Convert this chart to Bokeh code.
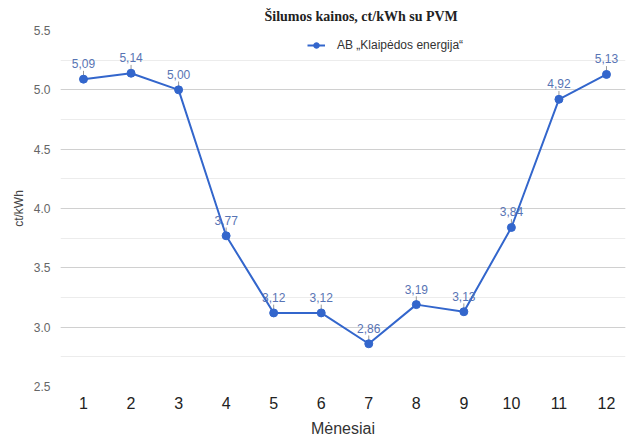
from bokeh.plotting import figure
from bokeh.models import (ColumnDataSource, SingleIntervalTicker, FixedTicker, PrintfTickFormatter,
                          Range1d, Legend, LegendItem, Title)
from bokeh.embed import file_html
from bokeh.resources import INLINE
from bokeh.core.properties import value

months = [1, 2, 3, 4, 5, 6, 7, 8, 9, 10, 11, 12]
prices = [5.09, 5.14, 5.00, 3.77, 3.12, 3.12, 2.86, 3.19, 3.13, 3.84, 4.92, 5.13]
price_labels = ["5,09", "5,14", "5,00", "3,77", "3,12", "3,12", "2,86", "3,19", "3,13", "3,84", "4,92", "5,13"]
x_tick_labels = {m: str(m) for m in months}

title_text = "Šilumos kainos, ct/kWh su PVM"
series_name = "AB \u201eKlaipėdos energija\u201c"
y_title = "ct/kWh"
x_title = "Mėnesiai"

LEADER = 0.07
src = ColumnDataSource(dict(x=months, y=prices, lab=price_labels,
                            ytop=[v + LEADER for v in prices]))

p = figure(width=636, height=440, output_backend="svg", toolbar_location=None,
           x_range=Range1d(0.516, 12.4), y_range=Range1d(2.5, 5.5),
           min_border_left=60, min_border_right=11, min_border_top=0, min_border_bottom=54)
p.outline_line_color = None

t = Title(text=title_text, align="left", text_font="Liberation Serif",
          text_font_size="14px", text_font_style="bold", text_color="#222222",
          offset=204, standoff=13)
p.add_layout(t, "above")

line_color = "#3366cc"
label_color = "#5874b4"

p.segment(x0="x", y0="y", x1="x", y1="ytop", source=src, line_color="#999999", line_width=1)
r_line = p.line("x", "y", source=src, line_color=line_color, line_width=2)
r_pts = p.scatter("x", "y", source=src, size=8, fill_color=line_color, line_color=line_color)
p.text("x", "y", text="lab", source=src, text_align="center", text_baseline="bottom",
       y_offset=-11, text_font=value("Liberation Sans"), text_font_size="12px",
       text_color=label_color)

legend = Legend(items=[LegendItem(label=series_name, renderers=[r_line, r_pts])],
                location=(247, 334), orientation="horizontal",
                border_line_color=None, background_fill_alpha=0,
                padding=0, margin=0, spacing=0,
                glyph_width=18, glyph_height=14, label_height=14, label_standoff=12,
                label_text_font="Liberation Sans", label_text_font_size="12px",
                label_text_color="#333333")
p.add_layout(legend, "center")

# y axis
p.yaxis.ticker = SingleIntervalTicker(interval=0.5, num_minor_ticks=2)
p.yaxis.formatter = PrintfTickFormatter(format="%.1f")
p.yaxis.axis_line_color = None
p.yaxis.major_tick_line_color = None
p.yaxis.minor_tick_line_color = None
p.yaxis.major_tick_out = 0
p.yaxis.major_tick_in = 0
p.yaxis.minor_tick_out = 0
p.yaxis.minor_tick_in = 0
p.yaxis.major_label_text_font = "Liberation Sans"
p.yaxis.major_label_text_font_size = "12px"
p.yaxis.major_label_text_color = "#666666"
p.yaxis.major_label_standoff = 10
p.yaxis.axis_label = y_title
p.yaxis.axis_label_text_font = "Liberation Sans"
p.yaxis.axis_label_text_font_size = "12px"
p.yaxis.axis_label_text_font_style = "normal"
p.yaxis.axis_label_text_color = "#444444"
p.yaxis.axis_label_standoff = 5

p.ygrid.grid_line_color = "#d0d0d0"
p.ygrid.minor_grid_line_color = "#ececec"
p.xgrid.grid_line_color = None

# x axis
p.xaxis.ticker = FixedTicker(ticks=months)
p.xaxis.major_label_overrides = x_tick_labels
p.xaxis.axis_line_color = None
p.xaxis.major_tick_line_color = None
p.xaxis.minor_tick_line_color = None
p.xaxis.major_tick_out = 0
p.xaxis.major_tick_in = 0
p.xaxis.minor_tick_out = 0
p.xaxis.minor_tick_in = 0
p.xaxis.major_label_text_font = "Liberation Sans"
p.xaxis.major_label_text_font_size = "16px"
p.xaxis.major_label_text_color = "#222222"
p.xaxis.major_label_standoff = 10
p.xaxis.axis_label = x_title
p.xaxis.axis_label_text_font = "Liberation Sans"
p.xaxis.axis_label_text_font_size = "16px"
p.xaxis.axis_label_text_font_style = "normal"
p.xaxis.axis_label_text_color = "#333333"
p.xaxis.axis_label_standoff = 8

open("out.html", "w").write(file_html(p, INLINE))
